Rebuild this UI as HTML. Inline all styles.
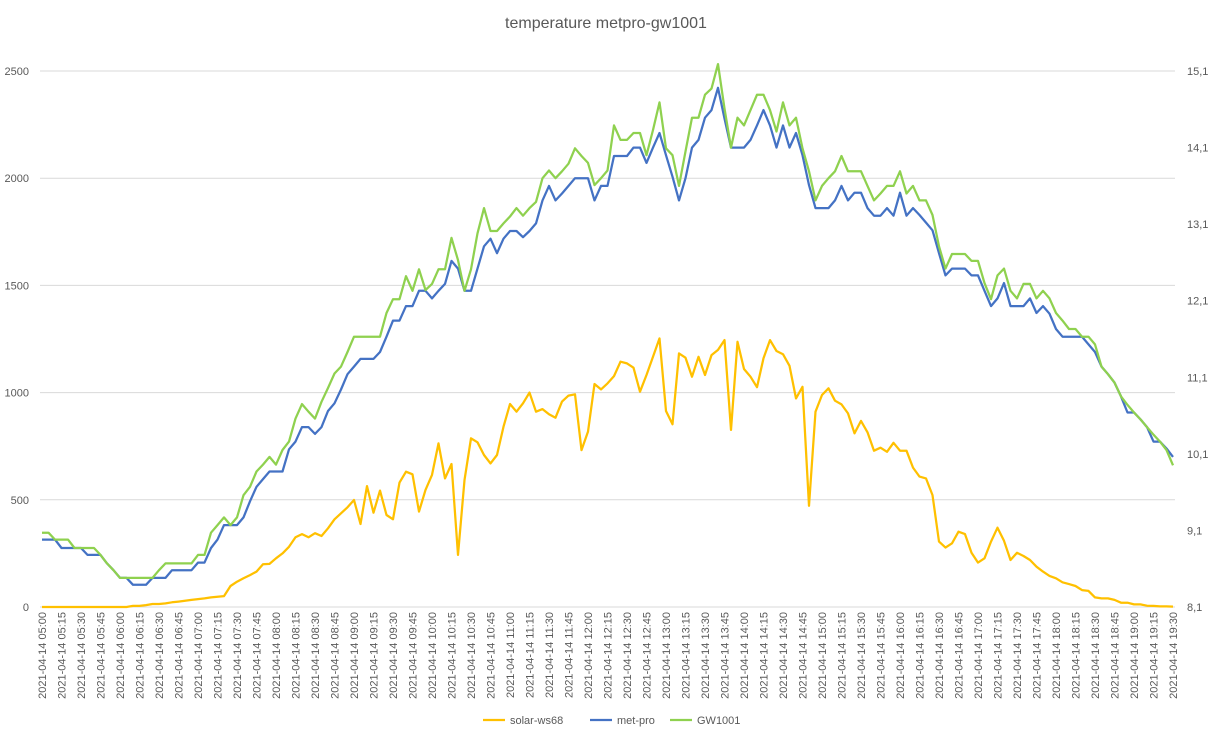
<!DOCTYPE html>
<html><head><meta charset="utf-8"><style>
body{margin:0;background:#fff;font-family:"Liberation Sans",sans-serif}
svg text{font-family:"Liberation Sans",sans-serif;fill:#595959}
</style></head><body>
<svg id="chart" width="1216" height="737" viewBox="0 0 1216 737" xmlns="http://www.w3.org/2000/svg">
<rect width="1216" height="737" fill="#fff"/>
<text x="606" y="28" font-size="16" text-anchor="middle">temperature metpro-gw1001</text>
<g id="grid"></g><g id="yl"></g><g id="yr"></g><g id="xl"></g><g id="series"></g>
<g>
<line x1="483" y1="720" x2="505" y2="720" stroke="#FFC000" stroke-width="2.25"/>
<text x="510" y="724" font-size="11">solar-ws68</text>
<line x1="590" y1="720" x2="612" y2="720" stroke="#4472C4" stroke-width="2.25"/>
<text x="617" y="724" font-size="11">met-pro</text>
<line x1="670" y1="720" x2="692" y2="720" stroke="#8FD14F" stroke-width="2.25"/>
<text x="697" y="724" font-size="11">GW1001</text>
</g>
</svg>
<script>
const leftTicks=[0,500,1000,1500,2000,2500];
const rightTicks=["8,1","9,1","10,1","11,1","12,1","13,1","14,1","15,1"];
const rightTickValues=[8.1,9.1,10.1,11.1,12.1,13.1,14.1,15.1];
const startMinutes=300, stepMinutes=5, pointCount=175;
const solar=[0,0,0,0,0,0,0,0,0,0,0,0,0,0,
5,5,9,14,14,17,22,25,29,33,37,40,45,48,51,
98,118,134,149,165,199,201,227,250,281,325,340,325,344,331,367,
409,437,465,499,387,564,440,543,429,409,580,631,619,445,546,616,763,600,667,243,592,787,768,709,670,709,841,947,911,950,1000,911,923,899,883,958,986,992,732,818,1040,1015,1043,1077,1144,
1136,1116,1004,1082,1167,1253,914,852,1183,1163,1074,1167,1082,1175,1199,1245,826,1237,1110,1074,1025,1160,1245,1194,1179,1125,973,1027,472,911,989,1020,962,945,903,810,868,815,729,743,724,766,729,729,
650,608,600,522,305,277,297,351,340,253,207,227,305,370,309,219,253,238,219,188,165,145,134,115,107,98,79,75,45,40,40,33,20,20,12,12,6,5,3,3,2];
const metpro=[8.98,8.98,8.98,8.87,8.87,8.87,8.87,8.78,8.78,8.78,8.67,8.58,8.48,8.48,8.39,8.39,8.39,8.48,8.48,8.48,8.58,8.58,8.58,8.58,8.68,8.68,8.87,8.98,9.17,9.17,9.17,9.27,9.48,9.67,9.77,9.87,9.87,9.87,10.16,10.26,10.45,10.45,10.36,10.45,10.66,
10.76,10.94,11.14,11.24,11.34,11.34,11.34,11.43,11.63,11.84,11.84,12.03,12.03,12.23,12.23,12.13,12.23,12.32,12.62,12.52,12.23,12.23,12.52,12.81,12.91,12.72,12.91,13.01,13.01,12.93,13.01,13.11,13.41,13.6,13.41,13.5,13.6,13.7,13.7,13.7,13.41,13.6,13.6,13.99,
13.99,13.99,14.1,14.1,13.9,14.1,14.29,14.0,13.72,13.41,13.7,14.1,14.2,14.49,14.59,14.88,14.48,14.1,14.1,14.1,14.2,14.39,14.59,14.39,14.1,14.39,14.1,14.29,14.0,13.61,13.31,13.31,13.31,13.41,13.6,13.41,13.51,13.51,13.31,13.21,13.21,13.31,13.21,13.51,13.21,
13.31,13.22,13.12,13.02,12.72,12.43,12.52,12.52,12.52,12.43,12.43,12.23,12.03,12.13,12.33,12.03,12.03,12.03,12.13,11.94,12.03,11.93,11.73,11.63,11.63,11.63,11.63,11.53,11.43,11.24,11.14,11.03,10.85,10.64,10.64,10.55,10.45,10.26,10.26,10.17,10.06];
const gw1001=[9.07,9.07,8.98,8.98,8.98,8.87,8.87,8.87,8.87,8.78,8.67,8.58,8.48,8.48,8.48,8.48,8.48,8.48,8.58,8.67,8.67,8.67,8.67,8.67,8.78,8.78,9.07,9.17,9.27,9.17,9.27,9.56,9.67,9.87,9.96,10.06,9.96,10.15,10.26,10.56,10.75,10.65,10.56,10.78,10.96,
11.15,11.24,11.43,11.63,11.63,11.63,11.63,11.63,11.94,12.12,12.12,12.42,12.23,12.51,12.24,12.32,12.51,12.51,12.92,12.63,12.23,12.51,12.98,13.31,13.01,13.01,13.11,13.2,13.31,13.21,13.31,13.39,13.7,13.8,13.7,13.79,13.89,14.09,13.99,13.9,13.61,13.7,13.8,14.39,
14.2,14.2,14.29,14.29,14.0,14.33,14.69,14.09,14.0,13.6,14.05,14.49,14.49,14.79,14.87,15.19,14.61,14.1,14.49,14.39,14.59,14.79,14.79,14.59,14.31,14.69,14.39,14.49,14.09,13.79,13.41,13.6,13.7,13.79,13.99,13.79,13.79,13.79,13.6,13.41,13.5,13.6,13.6,13.79,13.5,
13.6,13.41,13.41,13.22,12.81,12.52,12.71,12.71,12.71,12.62,12.62,12.33,12.12,12.43,12.52,12.23,12.13,12.32,12.32,12.13,12.23,12.13,11.94,11.84,11.73,11.73,11.63,11.63,11.53,11.24,11.14,11.03,10.85,10.74,10.64,10.55,10.45,10.35,10.26,10.15,9.95];

const NS="http://www.w3.org/2000/svg";
const X0=42,X1=1173,Y0=607,Y1=71;
function xs(i){return X0+i*(X1-X0)/(pointCount-1);}
function yl(v){return Y0-(v-0)/2500*(Y0-Y1);}
function yr(v){return Y0-(v-8.1)/7*(Y0-Y1);}
function mk(tag,attrs,parent){const e=document.createElementNS(NS,tag);for(const k in attrs)e.setAttribute(k,attrs[k]);parent.appendChild(e);return e;}
const grid=document.getElementById('grid'),gl=document.getElementById('yl'),gr=document.getElementById('yr'),gx=document.getElementById('xl'),gs=document.getElementById('series');
leftTicks.forEach(v=>{
  const l=mk('line',{x1:40,x2:1175,y1:yl(v),y2:yl(v),stroke:'#d9d9d9','stroke-width':1},grid);
  
  
  const t=mk('text',{x:29,y:yl(v)+4,'font-size':11,'text-anchor':'end'},gl);
  t.textContent=v;
  
  
});
rightTicks.forEach((s,k)=>{
  const t=mk('text',{x:1187,y:yr(rightTickValues[k])+4,'font-size':11},gr);
  t.textContent=s;
  
  
});
function pad(n){return (n<10?'0':'')+n;}
const categories=[];
for(let i=0;i<pointCount;i++){const m=startMinutes+i*stepMinutes;categories.push('2021-04-14 '+pad(Math.floor(m/60))+':'+pad(m%60));}
for(let i=0;i<pointCount;i+=3){
  const x=xs(i)+4,y=612;
  const t=mk('text',{x:x,y:y,'font-size':11,'text-anchor':'end',transform:'rotate(-90 '+x+' '+y+')'},gx);
  t.textContent=categories[i];
  
  
}
function line(data,yf,color,name){
  const d=data.map((v,i)=>(i?'L':'M')+xs(i).toFixed(1)+' '+yf(v).toFixed(1)).join(' ');
  const p=mk('path',{d:d,fill:'none',stroke:color,'stroke-width':2.25,'stroke-linejoin':'round'},gs);
  
  
}
line(solar,yl,'#FFC000','solar-ws68-line');
line(metpro,yr,'#4472C4','met-pro-line');
line(gw1001,yr,'#8FD14F','gw1001-line');
</script>
</body></html>
